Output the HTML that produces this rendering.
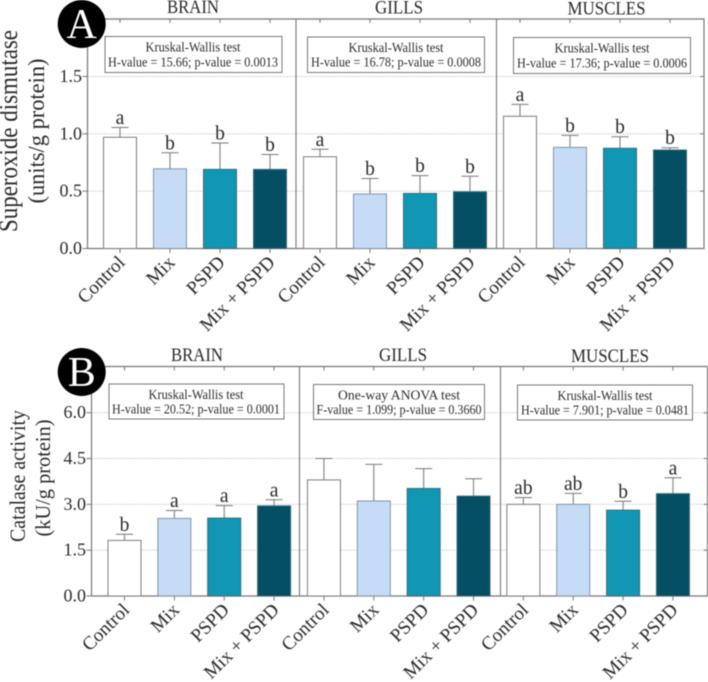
<!DOCTYPE html>
<html lang="en">
<head>
<meta charset="utf-8">
<title>Superoxide dismutase and catalase activity</title>
<style>
html,body{margin:0;padding:0;background:#fff;}
body{width:708px;height:682px;overflow:hidden;}
svg{display:block;filter:blur(0.4px);}
text{font-family:"Liberation Serif",serif;fill:#2a2a2a;}
.title{font-size:19px;text-anchor:middle;}
.test{font-size:13.6px;text-anchor:middle;fill:#2e2e2e;}
.box{fill:#fff;stroke:#777;stroke-width:1;}
.ytitle{text-anchor:middle;}
</style>
</head>
<body>
<svg id="figure" xmlns="http://www.w3.org/2000/svg" width="708" height="682" viewBox="0 0 708 682">
  <g id="panel-a"></g>
  <g id="panel-b"></g>

  <g>
    <text class="title" x="193" y="13" textLength="52" lengthAdjust="spacingAndGlyphs">BRAIN</text>
    <text class="title" x="399" y="13.5" textLength="48" lengthAdjust="spacingAndGlyphs">GILLS</text>
    <text class="title" x="606.5" y="14.5" textLength="78" lengthAdjust="spacingAndGlyphs">MUSCLES</text>

    <g>
      <rect class="box" x="105" y="36.5" width="177" height="36"/>
      <text class="test" x="193" y="51.5" textLength="95" lengthAdjust="spacingAndGlyphs">Kruskal-Wallis test</text>
      <text class="test" x="193" y="66.5" textLength="170" lengthAdjust="spacingAndGlyphs">H-value = 15.66; p-value = 0.0013</text>
    </g>
    <g>
      <rect class="box" x="307.5" y="37" width="177" height="35.5"/>
      <text class="test" x="396" y="52" textLength="95" lengthAdjust="spacingAndGlyphs">Kruskal-Wallis test</text>
      <text class="test" x="396" y="66.5" textLength="170" lengthAdjust="spacingAndGlyphs">H-value = 16.78; p-value = 0.0008</text>
    </g>
    <g>
      <rect class="box" x="513.5" y="37.5" width="177" height="36"/>
      <text class="test" x="602" y="52.5" textLength="95" lengthAdjust="spacingAndGlyphs">Kruskal-Wallis test</text>
      <text class="test" x="602" y="67.5" textLength="170" lengthAdjust="spacingAndGlyphs">H-value = 17.36; p-value = 0.0006</text>
    </g>

    <text class="ytitle" transform="translate(17 131) rotate(-90)" font-size="26" textLength="202" lengthAdjust="spacingAndGlyphs">Superoxide dismutase</text>
    <text class="ytitle" transform="translate(44 131) rotate(-90)" font-size="23" textLength="145" lengthAdjust="spacingAndGlyphs">(units/g protein)</text>

    <circle cx="81.7" cy="24" r="24" fill="#000"/>
    <text x="81.7" y="38" font-size="42" text-anchor="middle" style="fill:#fff">A</text>
  </g>

  <g>
    <text class="title" x="197" y="361" textLength="52" lengthAdjust="spacingAndGlyphs">BRAIN</text>
    <text class="title" x="403" y="361" textLength="48" lengthAdjust="spacingAndGlyphs">GILLS</text>
    <text class="title" x="610" y="362" textLength="78" lengthAdjust="spacingAndGlyphs">MUSCLES</text>

    <g>
      <rect class="box" x="109" y="384" width="175" height="35"/>
      <text class="test" x="196" y="399" textLength="95" lengthAdjust="spacingAndGlyphs">Kruskal-Wallis test</text>
      <text class="test" x="196" y="413.5" textLength="168" lengthAdjust="spacingAndGlyphs">H-value = 20.52; p-value = 0.0001</text>
    </g>
    <g>
      <rect class="box" x="313.5" y="384.5" width="171" height="35"/>
      <text class="test" x="399" y="399.5" textLength="122" lengthAdjust="spacingAndGlyphs">One-way  ANOVA test</text>
      <text class="test" x="399" y="414" textLength="165" lengthAdjust="spacingAndGlyphs">F-value = 1.099; p-value = 0.3660</text>
    </g>
    <g>
      <rect class="box" x="517.5" y="385" width="175" height="35"/>
      <text class="test" x="605" y="400" textLength="95" lengthAdjust="spacingAndGlyphs">Kruskal-Wallis test</text>
      <text class="test" x="605" y="414.5" textLength="168" lengthAdjust="spacingAndGlyphs">H-value = 7.901; p-value = 0.0481</text>
    </g>

    <text class="ytitle" transform="translate(25 476) rotate(-90)" font-size="22" textLength="132" lengthAdjust="spacingAndGlyphs">Catalase activity</text>
    <text class="ytitle" transform="translate(50 478) rotate(-90)" font-size="21" textLength="117" lengthAdjust="spacingAndGlyphs">(kU/g protein)</text>

    <circle cx="81.7" cy="372" r="24" fill="#000"/>
    <text x="81.7" y="386" font-size="42" text-anchor="middle" style="fill:#fff">B</text>
  </g>
</svg>

<script>
// Shared categories
const categories = ['Control', 'Mix', 'PSPD', 'Mix + PSPD'];
const tissues = ['brain', 'gills', 'muscles'];
const barColors = ['#ffffff', '#c6dcf6', '#1197b4', '#044f63'];

// Panel A: superoxide dismutase (brain, gills, muscles)
const sodMeans = [0.97, 0.695, 0.69, 0.69, 0.80, 0.475, 0.48, 0.495, 1.153, 0.882, 0.874, 0.859];
const sodErrors = [0.085, 0.14, 0.23, 0.13, 0.065, 0.135, 0.155, 0.135, 0.104, 0.105, 0.101, 0.02];
const sodLetters = ['a', 'b', 'b', 'b', 'a', 'b', 'b', 'b', 'a', 'b', 'b', 'b'];
const sodTicks = [0, 0.5, 1, 1.5];
const sodTickLabels = ['0.0', '0.5', '1.0', '1.5'];

// Panel B: catalase activity (brain, gills, muscles)
const catMeans = [1.82, 2.54, 2.55, 2.95, 3.80, 3.11, 3.52, 3.27, 3.0, 3.0, 2.81, 3.35];
const catErrors = [0.2, 0.26, 0.41, 0.2, 0.7, 1.2, 0.65, 0.57, 0.22, 0.36, 0.29, 0.52];
const catLetters = ['b', 'a', 'a', 'a', '', '', '', '', 'ab', 'ab', 'b', 'a'];
const catTicks = [0, 1.5, 3, 4.5, 6];
const catTickLabels = ['0.0', '1.5', '3.0', '4.5', '6.0'];

const NS = 'http://www.w3.org/2000/svg';

function make(parent, tag, attrs) {
  const el = document.createElementNS(NS, tag);
  for (const k in attrs) el.setAttribute(k, attrs[k]);
  parent.appendChild(el);
  return el;
}

function drawPanel(host, prefix, frame, means, errors, letters, ticks, tickLabels) {
  const y = v => frame.y0 - v * frame.yScale;
  const x = i => frame.firstCenter + i * frame.step;
  const axisColor = '#777';

  // grid and y ticks
  ticks.forEach((t, i) => {
    if (t !== 0) {
      const grid = make(host, 'line', {x1: frame.left, x2: frame.right, y1: y(t), y2: y(t), stroke: '#bbb', 'stroke-width': 0.9, 'stroke-dasharray': '1.2 1.2'});
      
      
    }
    const tick = make(host, 'line', {x1: frame.left - 5, x2: frame.left, y1: y(t), y2: y(t), stroke: axisColor, 'stroke-width': 1});
    
    
    const rtick = make(host, 'line', {x1: frame.right - 4, x2: frame.right, y1: y(t), y2: y(t), stroke: axisColor, 'stroke-width': 1});
    
    
    const label = make(host, 'text', {x: frame.left - 5.5, y: y(t) + 5.5, 'font-size': 18, 'text-anchor': 'end'});
    label.textContent = tickLabels[i];
    
    
  });

  // frame
  const frameRect = make(host, 'path', {d: 'M' + frame.left + ' ' + frame.y0 + 'V' + frame.top + 'H' + frame.right + 'V' + frame.y0 + 'H' + frame.left, fill: 'none', stroke: axisColor, 'stroke-width': 1.2});
  
  

  // tissue dividers
  frame.dividers.forEach(d => {
    const line = make(host, 'line', {x1: d, x2: d, y1: frame.top, y2: frame.y0, stroke: axisColor, 'stroke-width': 1.1});
    
    
  });

  // bars
  means.forEach((m, i) => {
    const cx = x(i);
    const catIdx = i % categories.length;
    const tissue = tissues[Math.floor(i / categories.length)];
    const top = y(m + errors[i]);

    const whisker = make(host, 'line', {x1: cx, x2: cx, y1: top, y2: y(m), stroke: '#8a8a8a', 'stroke-width': 1.2});
    
    
    const cap = make(host, 'line', {x1: cx - 8.5, x2: cx + 8.5, y1: top, y2: top, stroke: '#777', 'stroke-width': 1});
    
    

    const bar = make(host, 'rect', {x: cx - frame.barWidth / 2, y: y(m), width: frame.barWidth, height: frame.y0 - y(m), fill: barColors[catIdx], stroke: catIdx === 0 ? '#7d7d7d' : (catIdx === 1 ? '#8094a8' : '#3d6a78'), 'stroke-width': 1});
    
    

    const bottomTick = make(host, 'line', {x1: cx, x2: cx, y1: frame.y0, y2: frame.y0 + 4.5, stroke: axisColor, 'stroke-width': 1});
    
    
    const topTick = make(host, 'line', {x1: cx, x2: cx, y1: frame.top, y2: frame.top + 4, stroke: axisColor, 'stroke-width': 1});
    
    

    if (letters[i]) {
      const sig = make(host, 'text', {x: cx, y: top - 3.5, 'font-size': 19.5, 'text-anchor': 'middle'});
      sig.textContent = letters[i];
      
      
    }

    const lx = cx + 6;
    const ly = frame.y0 + 15;
    const label = make(host, 'text', {x: lx, y: ly, 'font-size': 19, 'text-anchor': 'end', transform: 'rotate(-45 ' + lx + ' ' + ly + ')'});
    label.textContent = categories[catIdx];
    
    
  });
}

drawPanel(document.getElementById('panel-a'), 'panel-a',
  {left: 87.5, right: 704, top: 19, y0: 248.5, yScale: 114.67, firstCenter: 120, step: 50, barWidth: 33, dividers: [296, 496.5]},
  sodMeans, sodErrors, sodLetters, sodTicks, sodTickLabels);

drawPanel(document.getElementById('panel-b'), 'panel-b',
  {left: 91.5, right: 707.5, top: 366.5, y0: 596, yScale: 30.55, firstCenter: 124.5, step: 49.86, barWidth: 33, dividers: [299.5, 500.5]},
  catMeans, catErrors, catLetters, catTicks, catTickLabels);
</script>
</body>
</html>
